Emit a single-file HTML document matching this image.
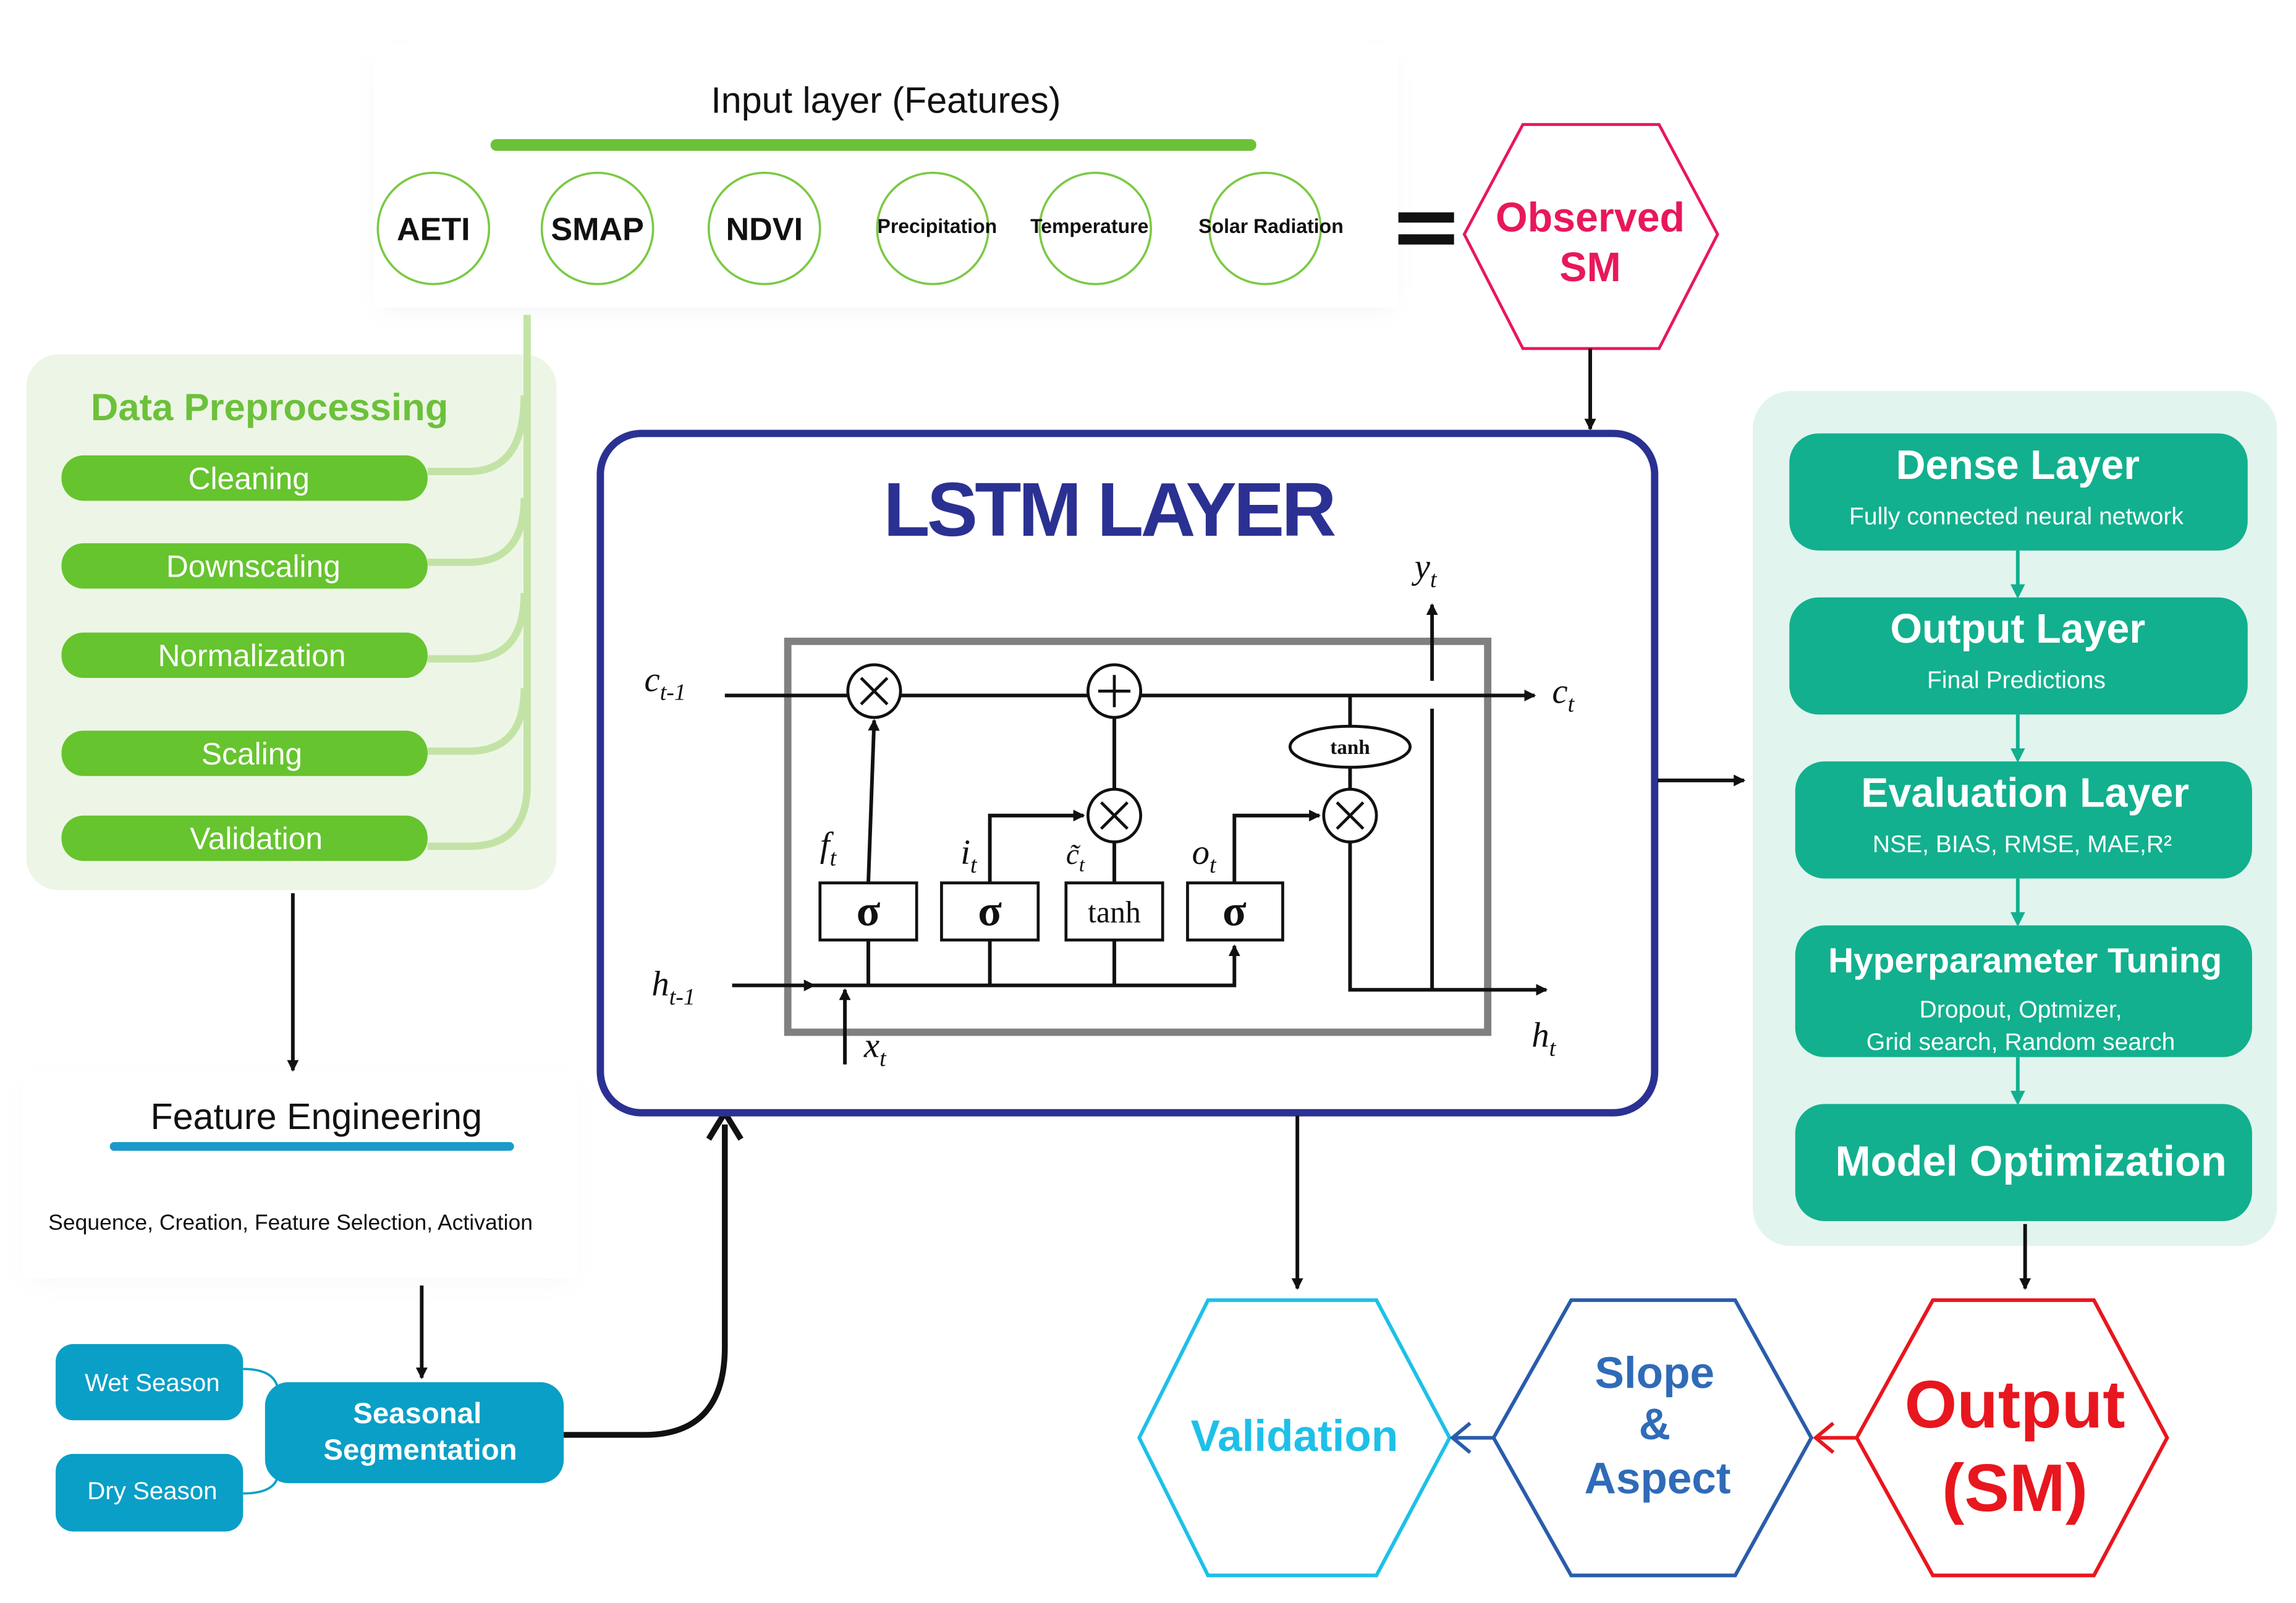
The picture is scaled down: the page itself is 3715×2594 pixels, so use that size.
<!DOCTYPE html>
<html><head><meta charset="utf-8"><style>
html,body{margin:0;padding:0;background:#fff;}
svg{display:block;}
text{font-family:"Liberation Sans",sans-serif;}
.s{font-family:"Liberation Serif",serif;}
</style></head><body>
<svg width="3715" height="2594" viewBox="0 0 1568 1094.8" xmlns="http://www.w3.org/2000/svg">
<defs>
<marker id="a" markerWidth="8" markerHeight="8" refX="7" refY="4" orient="auto" markerUnits="userSpaceOnUse"><path d="M0,0 L8,4 L0,8 Z" fill="#111"/></marker>
<marker id="t" markerWidth="10" markerHeight="10" refX="5" refY="5" orient="auto" markerUnits="userSpaceOnUse"><path d="M0,0 L10,5 L0,10 Z" fill="#12b08e"/></marker>
<filter id="sh" x="-10%" y="-30%" width="120%" height="160%"><feGaussianBlur stdDeviation="8"/></filter>
</defs>
<rect x="260" y="40" width="690" height="170" fill="#e6e6e6" filter="url(#sh)" opacity="0.5"/>
<rect x="255" y="30" width="700" height="180" fill="#fff"/>
<text x="605" y="77" font-size="25" text-anchor="middle" fill="#111">Input layer (Features)</text>
<line x1="339" y1="99" x2="854" y2="99" stroke="#6cc13a" stroke-width="8" stroke-linecap="round"/>
<g fill="#fff" stroke="#7ac943" stroke-width="1.5">
<circle cx="296" cy="156" r="38"/><circle cx="408" cy="156" r="38"/><circle cx="522" cy="156" r="38"/>
<circle cx="637" cy="156" r="38"/><circle cx="748" cy="156" r="38"/><circle cx="864" cy="156" r="38"/>
</g>
<g font-weight="bold" fill="#111" text-anchor="middle">
<text x="296" y="164" font-size="22">AETI</text><text x="408" y="164" font-size="22">SMAP</text><text x="522" y="164" font-size="22">NDVI</text>
<text x="640" y="159" font-size="13.5">Precipitation</text><text x="744" y="159" font-size="13.5">Temperature</text><text x="868" y="159" font-size="13.5">Solar Radiation</text>
</g>
<rect x="955" y="145" width="38" height="7" fill="#111"/><rect x="955" y="160" width="38" height="7" fill="#111"/>
<polygon points="1000,160 1040,85 1133,85 1173,160 1133,238 1040,238" fill="#fff" stroke="#e8185a" stroke-width="2"/>
<text x="1086" y="158" font-size="28" font-weight="bold" fill="#e8185a" text-anchor="middle">Observed</text>
<text x="1086" y="192" font-size="28" font-weight="bold" fill="#e8185a" text-anchor="middle">SM</text>
<line x1="1086" y1="238" x2="1086" y2="293" stroke="#111" stroke-width="2.5" marker-end="url(#a)"/>
<rect x="18" y="242" width="362" height="366" rx="22" fill="#edf6e6"/>
<text x="62" y="287" font-size="26" font-weight="bold" fill="#6cc13a">Data Preprocessing</text>
<g fill="none" stroke="#c3e3a6" stroke-width="5">
<path d="M360,215 V540 Q358,578 320,578 H292"/>
<path d="M358,270 Q358,322 320,322 H292"/>
<path d="M358,340 Q358,384 320,384 H292"/>
<path d="M358,405 Q358,450 320,450 H292"/>
<path d="M358,470 Q358,513 320,513 H292"/>
</g>
<g fill="#66c42e">
<rect x="42" y="311" width="250" height="31" rx="15"/><rect x="42" y="371" width="250" height="31" rx="15"/>
<rect x="42" y="432" width="250" height="31" rx="15"/><rect x="42" y="499" width="250" height="31" rx="15"/>
<rect x="42" y="557" width="250" height="31" rx="15"/>
</g>
<g fill="#fff" font-size="21" text-anchor="middle">
<text x="170" y="334">Cleaning</text><text x="173" y="394">Downscaling</text><text x="172" y="455">Normalization</text>
<text x="172" y="522">Scaling</text><text x="175" y="580">Validation</text>
</g>
<line x1="200" y1="610" x2="200" y2="731" stroke="#111" stroke-width="2.5" marker-end="url(#a)"/>
<rect x="20" y="740" width="370" height="135" fill="#ececec" filter="url(#sh)" opacity="0.4"/>
<rect x="15" y="733" width="380" height="140" fill="#fff"/>
<text x="216" y="771" font-size="25" text-anchor="middle" fill="#111">Feature Engineering</text>
<line x1="78" y1="783" x2="348" y2="783" stroke="#1a9ac9" stroke-width="6" stroke-linecap="round"/>
<text x="33" y="840" font-size="15" fill="#111">Sequence, Creation, Feature Selection, Activation</text>
<line x1="288" y1="878" x2="288" y2="941" stroke="#111" stroke-width="2.5" marker-end="url(#a)"/>
<path d="M166,935 Q190,935 190,952 M166,1020 Q190,1020 190,1005" fill="none" stroke="#0a9fc6" stroke-width="1.5"/>
<rect x="38" y="918" width="128" height="52" rx="12" fill="#0a9fc6"/>
<rect x="38" y="993" width="128" height="53" rx="12" fill="#0a9fc6"/>
<rect x="181" y="944" width="204" height="69" rx="16" fill="#0a9fc6"/>
<text x="104" y="950" font-size="17" fill="#fff" text-anchor="middle">Wet Season</text>
<text x="104" y="1024" font-size="17" fill="#fff" text-anchor="middle">Dry Season</text>
<text x="285" y="972" font-size="20" font-weight="bold" fill="#fff" text-anchor="middle">Seasonal</text>
<text x="287" y="997" font-size="20" font-weight="bold" fill="#fff" text-anchor="middle">Segmentation</text>
<path d="M385,980 H440 Q495,980 495,920 V768" fill="none" stroke="#111" stroke-width="4"/>
<path d="M484,778 L495,760 L506,778" fill="none" stroke="#111" stroke-width="4"/>
<rect x="410" y="296" width="720" height="464" rx="28" fill="#fff" stroke="#2b3192" stroke-width="5"/>
<text x="757" y="366" font-size="52" font-weight="bold" fill="#2b3192" text-anchor="middle" letter-spacing="-2">LSTM LAYER</text>
<rect x="538" y="438" width="478" height="267" fill="none" stroke="#808080" stroke-width="5"/>
<g stroke="#111" stroke-width="2.5" fill="none">
<line x1="495" y1="475" x2="1048" y2="475" marker-end="url(#a)"/>
<line x1="500" y1="673" x2="556" y2="673" marker-end="url(#a)"/>
<path d="M556,673 H843 V646" marker-end="url(#a)"/>
<line x1="577" y1="727" x2="577" y2="676" marker-end="url(#a)"/>
<line x1="593" y1="603" x2="597" y2="492" marker-end="url(#a)"/>
<path d="M676,603 V557 H740" marker-end="url(#a)"/>
<path d="M761,603 V575 M761,539 V490"/>
<path d="M843,603 V557 H901" marker-end="url(#a)"/>
<path d="M922,575 V676 H1056" marker-end="url(#a)"/>
<path d="M922,539 V524 M922,496 V475"/>
<line x1="978" y1="676" x2="978" y2="484"/>
<line x1="978" y1="465" x2="978" y2="413" marker-end="url(#a)"/>
<path d="M593,642 V673 M676,642 V673 M761,642 V673"/>
</g>
<g fill="#fff" stroke="#111" stroke-width="2">
<circle cx="597" cy="472" r="18"/><circle cx="761" cy="472" r="18"/><circle cx="761" cy="557" r="18"/><circle cx="922" cy="557" r="18"/>
<ellipse cx="922" cy="510" rx="41" ry="14"/>
<rect x="560" y="603" width="66" height="39"/><rect x="643" y="603" width="66" height="39"/>
<rect x="728" y="603" width="66" height="39"/><rect x="811" y="603" width="65" height="39"/>
</g>
<g stroke="#111" stroke-width="2">
<path d="M588,463 L606,481 M606,463 L588,481 M752,548 L770,566 M770,548 L752,566 M913,548 L931,566 M931,548 L913,566 M750,472 H772 M761,461 V483"/>
</g>
<g class="s" fill="#111">
<text x="922" y="515" font-size="14" font-weight="bold" text-anchor="middle" class="s">tanh</text>
<text x="593" y="632" font-size="30" font-weight="bold" text-anchor="middle" class="s">σ</text>
<text x="676" y="632" font-size="30" font-weight="bold" text-anchor="middle" class="s">σ</text>
<text x="761" y="630" font-size="21" text-anchor="middle" class="s">tanh</text>
<text x="843" y="632" font-size="30" font-weight="bold" text-anchor="middle" class="s">σ</text>
<g font-style="italic" font-size="24">
<text x="440" y="472" class="s">c<tspan font-size="16" dy="6">t-1</tspan></text>
<text x="1060" y="480" class="s">c<tspan font-size="16" dy="6">t</tspan></text>
<text x="966" y="395" class="s">y<tspan font-size="16" dy="6">t</tspan></text>
<text x="445" y="680" class="s">h<tspan font-size="16" dy="6">t-1</tspan></text>
<text x="1046" y="715" class="s">h<tspan font-size="16" dy="6">t</tspan></text>
<text x="590" y="722" class="s">x<tspan font-size="16" dy="6">t</tspan></text>
<text x="560" y="585" class="s">f<tspan font-size="16" dy="6">t</tspan></text>
<text x="656" y="590" class="s">i<tspan font-size="16" dy="6">t</tspan></text>
<text x="728" y="590" font-size="20" class="s">c̃<tspan font-size="14" dy="5">t</tspan></text>
<text x="814" y="590" class="s">o<tspan font-size="16" dy="6">t</tspan></text>
</g></g>
<line x1="1132" y1="533" x2="1191" y2="533" stroke="#111" stroke-width="2.5" marker-end="url(#a)"/>
<line x1="886" y1="762" x2="886" y2="880" stroke="#111" stroke-width="2.5" marker-end="url(#a)"/>
<rect x="1197" y="267" width="358" height="584" rx="26" fill="#e2f4ee"/>
<g stroke="#12b08e" stroke-width="2.5">
<line x1="1378" y1="376" x2="1378" y2="404" marker-end="url(#t)"/>
<line x1="1378" y1="488" x2="1378" y2="516" marker-end="url(#t)"/>
<line x1="1378" y1="600" x2="1378" y2="628" marker-end="url(#t)"/>
<line x1="1378" y1="722" x2="1378" y2="750" marker-end="url(#t)"/>
</g>
<g fill="#12b08e">
<rect x="1222" y="296" width="313" height="80" rx="20"/><rect x="1222" y="408" width="313" height="80" rx="20"/>
<rect x="1226" y="520" width="312" height="80" rx="20"/><rect x="1226" y="632" width="312" height="90" rx="20"/>
<rect x="1226" y="754" width="312" height="80" rx="20"/>
</g>
<g fill="#fff" text-anchor="middle">
<text x="1378" y="327" font-size="28" font-weight="bold">Dense Layer</text>
<text x="1377" y="358" font-size="16.5">Fully connected neural network</text>
<text x="1378" y="439" font-size="28" font-weight="bold">Output Layer</text>
<text x="1377" y="470" font-size="16.5">Final Predictions</text>
<text x="1383" y="551" font-size="28" font-weight="bold">Evaluation Layer</text>
<text x="1381" y="582" font-size="16.5">NSE, BIAS, RMSE, MAE,R²</text>
<text x="1383" y="664" font-size="24" font-weight="bold">Hyperparameter Tuning</text>
<text x="1380" y="695" font-size="16.5">Dropout, Optmizer,</text>
<text x="1380" y="717" font-size="16.5">Grid search, Random search</text>
<text x="1387" y="803" font-size="29" font-weight="bold">Model Optimization</text>
</g>
<line x1="1383" y1="836" x2="1383" y2="880" stroke="#111" stroke-width="2.5" marker-end="url(#a)"/>
<polygon points="778,982 825,888 940,888 990,982 940,1076 825,1076" fill="#fff" stroke="#1ec0e8" stroke-width="2.5"/>
<polygon points="1020,982 1073,888 1185,888 1237,982 1185,1076 1073,1076" fill="#fff" stroke="#2a5cab" stroke-width="2.5"/>
<polygon points="1268,982 1320,888 1430,888 1480,982 1430,1076 1320,1076" fill="#fff" stroke="#e8161e" stroke-width="2.5"/>
<text x="884" y="991" font-size="30" font-weight="bold" fill="#1ec0e8" text-anchor="middle">Validation</text>
<g font-size="30" font-weight="bold" fill="#2f6bb8" text-anchor="middle">
<text x="1130" y="948">Slope</text><text x="1130" y="983">&amp;</text><text x="1132" y="1020">Aspect</text></g>
<g font-size="46" font-weight="bold" fill="#e8161e" text-anchor="middle">
<text x="1376" y="975">Output</text><text x="1376" y="1032">(SM)</text></g>
<path d="M1268,982 H1240 M1252,972 L1240,982 L1252,992" fill="none" stroke="#e8161e" stroke-width="2.5"/>
<path d="M1020,982 H992 M1004,972 L992,982 L1004,992" fill="none" stroke="#2a5cab" stroke-width="2.5"/>
</svg>
</body></html>
